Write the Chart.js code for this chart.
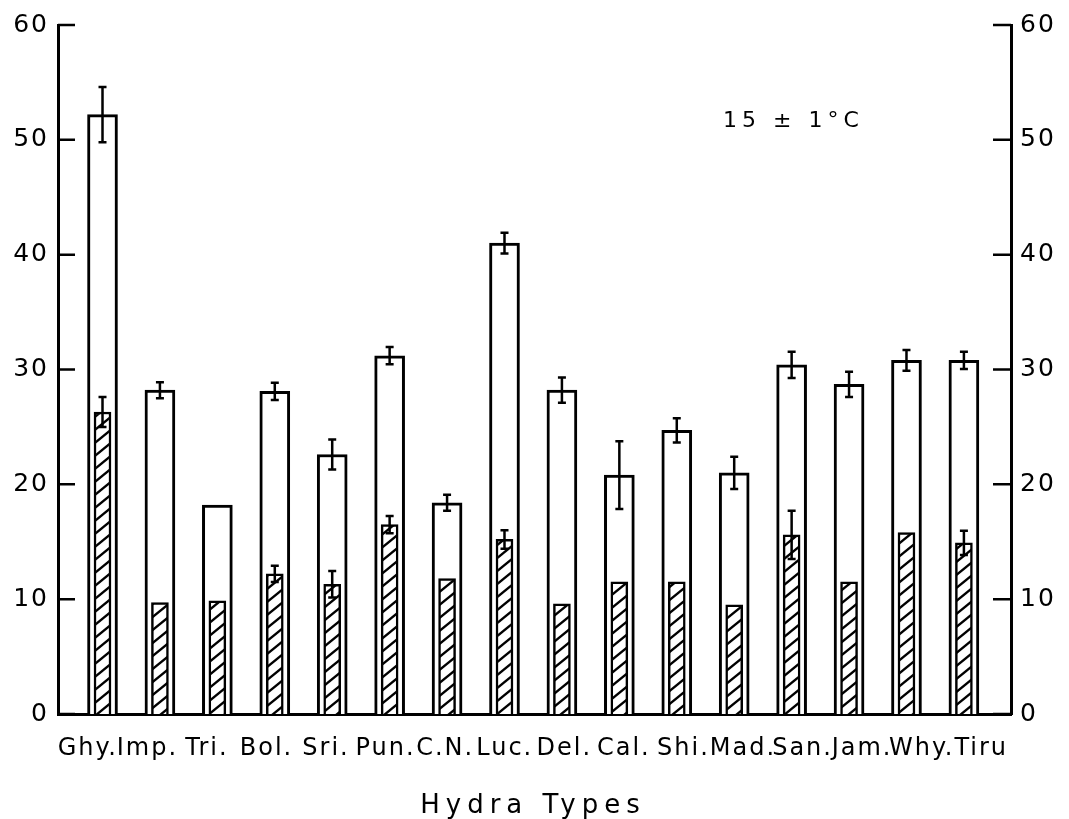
<!DOCTYPE html>
<html lang="en">
<head>
<meta charset="UTF-8">
<title>Hydra Types</title>
<style>
    html, body { margin: 0; padding: 0; background: #fff; }
    .wrap { width: 1069px; height: 819px; position: relative; }
</style>
<script src="https://cdn.jsdelivr.net/npm/chart.js"></script>
</head>
<body>
<div class="wrap"><canvas id="chart"></canvas></div>
<script>
    // data
    const types = ['Ghy.', 'Imp.', 'Tri.', 'Bol.', 'Sri.', 'Pun.', 'C.N.', 'Luc.', 'Del.', 'Cal.', 'Shi.', 'Mad.', 'San.', 'Jam.', 'Why.', 'Tiru'];
    const openValues = [52.2, 28.2, 18.2, 28.1, 22.6, 31.2, 18.4, 41.0, 28.2, 20.8, 24.7, 21.0, 30.4, 28.7, 30.8, 30.8];
    const openErrors = [2.4, 0.7, 0, 0.75, 1.3, 0.75, 0.7, 0.9, 1.1, 2.95, 1.05, 1.4, 1.15, 1.1, 0.9, 0.75];
    const hatchValues = [26.3, 9.7, 9.85, 12.2, 11.3, 16.5, 11.8, 15.2, 9.6, 11.5, 11.5, 9.5, 15.6, 11.5, 15.8, 14.9];
    const hatchErrors = [1.3, 0, 0, 0.7, 1.15, 0.75, 0, 0.8, 0, 0, 0, 0, 2.1, 0, 0, 1.05];
    const yTicks = [0, 10, 20, 30, 40, 50, 60];
    const axisTitle = 'Hydra Types';
    const note = '15 ± 1°C';

    const FONT = "'DejaVu Sans', sans-serif";
    Chart.defaults.font.family = FONT;
    Chart.defaults.color = '#000';

    function makeHatch() {
        const w = 16, h = 13;
        const c = document.createElement('canvas');
        c.width = w;
        c.height = h;
        const g = c.getContext('2d');
        g.fillStyle = '#fff';
        g.fillRect(0, 0, w, h);
        g.strokeStyle = '#000';
        g.lineWidth = 2.4;
        for (const dy of [-h, 0, h]) {
            g.beginPath();
            g.moveTo(-w, 2 * h + dy);
            g.lineTo(2 * w, -h + dy);
            g.stroke();
        }
        return g.createPattern(c, 'repeat');
    }

    const toPoints = vals => vals.map((v, i) => ({ x: i, y: v }));

    // error bars on top of each bar
    const errorBars = {
        id: 'errorBars',
        afterDatasetsDraw(chart) {
            const ctx = chart.ctx;
            const y = chart.scales.y;
            chart.data.datasets.forEach((ds, di) => {
                const meta = chart.getDatasetMeta(di);
                meta.data.forEach((bar, i) => {
                    const e = ds.errors[i];
                    if (!e) return;
                    const v = ds.data[i].y;
                    const top = y.getPixelForValue(v + e);
                    const bot = y.getPixelForValue(v - e);
                    ctx.save();
                    ctx.strokeStyle = '#000';
                    ctx.lineWidth = 2.5;
                    ctx.beginPath();
                    ctx.moveTo(bar.x, top);
                    ctx.lineTo(bar.x, bot);
                    ctx.moveTo(bar.x - 4, top);
                    ctx.lineTo(bar.x + 4, top);
                    ctx.moveTo(bar.x - 4, bot);
                    ctx.lineTo(bar.x + 4, bot);
                    ctx.stroke();
                    ctx.restore();
                });
            });
        }
    };

    // inward tick marks, axis title and temperature note
    const decorations = {
        id: 'decorations',
        beforeDraw(chart) {
            chart.ctx.letterSpacing = '2px';
        },
        afterDraw(chart) {
            const ctx = chart.ctx;
            const area = chart.chartArea;
            const y = chart.scales.y;
            ctx.save();
            ctx.strokeStyle = '#000';
            ctx.lineWidth = 2.5;
            ctx.beginPath();
            yTicks.forEach(t => {
                const py = y.getPixelForValue(t);
                ctx.moveTo(area.left, py);
                ctx.lineTo(area.left + 17, py);
                ctx.moveTo(area.right - 18, py);
                ctx.lineTo(area.right, py);
            });
            ctx.stroke();

            ctx.fillStyle = '#000';
            ctx.textAlign = 'center';
            ctx.textBaseline = 'alphabetic';
            ctx.font = '26px ' + FONT;
            ctx.letterSpacing = '6px';
            ctx.fillText(axisTitle, 533, 813);

            ctx.textAlign = 'left';
            ctx.font = '22px ' + FONT;
            ctx.letterSpacing = '5px';
            ctx.fillText(note, 723, 127);
            ctx.restore();
            ctx.letterSpacing = '0px';
        }
    };

    const yAxis = (position) => ({
        position: position,
        min: 0,
        max: 60,
        ticks: {
            stepSize: 10,
            padding: 9,
            font: { size: 25 },
            color: '#000'
        },
        grid: { display: false, drawTicks: false },
        border: { display: true, color: '#000', width: 3 },
        afterFit: s => { s.width = 58; }
    });

    new Chart(document.getElementById('chart'), {
        type: 'bar',
        data: {
            datasets: [
                {
                    label: 'hatched',
                    data: toPoints(hatchValues),
                    errors: hatchErrors,
                    xAxisID: 'xb',
                    yAxisID: 'y',
                    backgroundColor: makeHatch(),
                    borderColor: '#000',
                    borderWidth: 2.5,
                    barThickness: 17,
                    grouped: false,
                    order: 0
                },
                {
                    label: 'open',
                    data: toPoints(openValues),
                    errors: openErrors,
                    xAxisID: 'xb',
                    yAxisID: 'y',
                    backgroundColor: '#fff',
                    borderColor: '#000',
                    borderWidth: 3,
                    barThickness: 30,
                    grouped: false,
                    order: 1
                }
            ]
        },
        options: {
            responsive: true,
            maintainAspectRatio: false,
            animation: false,
            layout: { padding: { top: 25, left: 0, right: 0, bottom: 0 } },
            plugins: {
                legend: { display: false },
                tooltip: { enabled: false }
            },
            scales: {
                x: {
                    type: 'category',
                    labels: types,
                    offset: true,
                    position: 'bottom',
                    grid: { display: false, drawTicks: false },
                    border: { display: true, color: '#000', width: 3 },
                    ticks: {
                        autoSkip: false,
                        maxRotation: 0,
                        padding: 20,
                        font: { size: 24 },
                        color: '#000'
                    },
                    afterFit: s => { s.height = 105; }
                },
                xb: {
                    type: 'linear',
                    display: false,
                    offset: false,
                    min: -0.775,
                    max: 15.82
                },
                y: yAxis('left'),
                y2: yAxis('right')
            }
        },
        plugins: [errorBars, decorations]
    });
</script>
</body>
</html>
